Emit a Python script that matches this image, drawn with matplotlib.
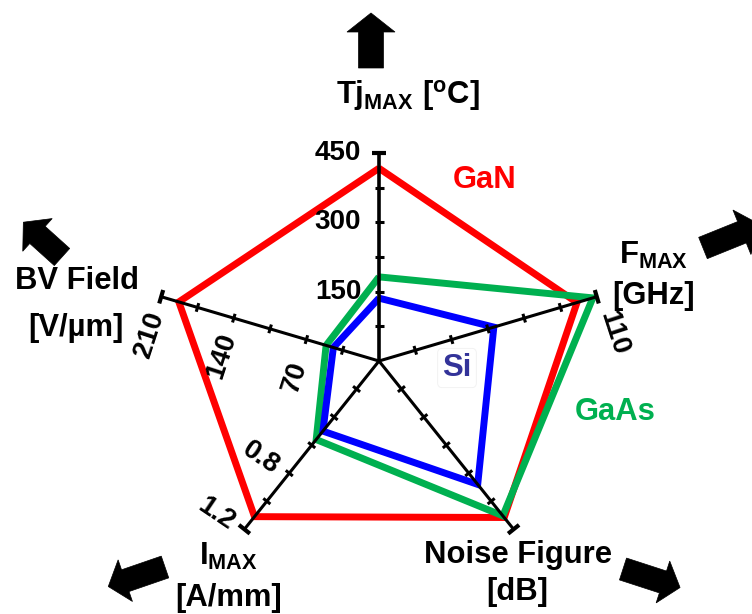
import numpy as np
import matplotlib
matplotlib.use("Agg")
import matplotlib.pyplot as plt
from matplotlib.patches import Polygon

plt.rcParams['font.family'] = ['Liberation Sans', 'DejaVu Sans']
plt.rcParams['font.weight'] = 'bold'
plt.rcParams['mathtext.fontset'] = 'custom'
plt.rcParams['mathtext.rm'] = 'Liberation Sans:bold'
plt.rcParams['mathtext.bf'] = 'Liberation Sans:bold'
plt.rcParams['mathtext.it'] = 'Liberation Sans:bold'
plt.rcParams['mathtext.sf'] = 'Liberation Sans:bold'
plt.rcParams['mathtext.default'] = 'rm'

# ---------------- data ----------------
axis_keys = ['Tj', 'Fmax', 'NF', 'Imax', 'BV']
axis_angles = [90, 18, -54, 234, 162]          # degrees
axis_max = [450, 110, 6.0, 1.2, 210]
n_ticks = 6

gan = [417, 100, 5.58, 1.11, 193]
gaas = [182, 108, 5.52, 0.56, 51]
si = [136, 58, 4.4, 0.50, 44]

tick_labels_tj = ['150', '300', '450']
tick_labels_bv = ['70', '140', '210']
tick_labels_fmax = ['110']
tick_labels_imax = ['0.8', '1.2']

# ---------------- layout ----------------
W, H = 752, 614
CX, CY = 379, 361          # centre in image pixels (y down)
SX, SY = 229.0, 208.0      # pixels per radius unit

fig = plt.figure(figsize=(W / 100, H / 100), dpi=100)
ax = fig.add_axes([0, 0, 1, 1])
ax.set_xlim(-CX / SX, (W - CX) / SX)
ax.set_ylim(-(H - CY) / SY, CY / SY)
ax.axis('off')


def img2data(px, py):
    return (px - CX) / SX, (CY - py) / SY


def point(i, v):
    r = v / axis_max[i]
    a = np.deg2rad(axis_angles[i])
    return r * np.cos(a), r * np.sin(a)


def perp(i, length_px):
    a = np.deg2rad(axis_angles[i])
    dx, dy = np.cos(a) * SX, np.sin(a) * SY
    n = np.hypot(dx, dy)
    px, py = -dy / n * length_px, dx / n * length_px
    return px / SX, py / SY


# ---------------- series polygons ----------------
series = [(gan, '#FF0000', 3), (gaas, '#00B050', 4), (si, '#0000FF', 5)]
for vals, col, z in series:
    pts = [point(i, v) for i, v in enumerate(vals)]
    pts.append(pts[0])
    xs, ys = zip(*pts)
    ax.plot(xs, ys, color=col, lw=5.0, zorder=z, solid_joinstyle='miter',
            solid_capstyle='butt')

# ---------------- axes ----------------
for i in range(5):
    x1, y1 = point(i, axis_max[i])
    ax.plot([0, x1], [0, y1], color='black', lw=2.2 if i else 2.6, zorder=10,
            solid_capstyle='butt')
    for k in range(1, n_ticks + 1):
        v = axis_max[i] * k / n_ticks
        tx, ty = point(i, v)
        hl = 4.5 if k < n_ticks else 7.0
        ox, oy = perp(i, hl)
        ax.plot([tx - ox, tx + ox], [ty - oy, ty + oy], color='black',
                lw=2.2 if k < n_ticks else 3.0, zorder=10, solid_capstyle='butt')

# ---------------- tick labels ----------------
tfs = 20


def tick_label(i, k, txt, off_img, rot):
    v = axis_max[i] * k / n_ticks
    tx, ty = point(i, v)
    ax.text(tx + off_img[0] / SX, ty - off_img[1] / SY, txt, fontsize=tfs,
            fontweight='bold', rotation=rot, ha='center', va='center',
            rotation_mode='anchor', zorder=12)


for lab, k in zip(tick_labels_tj, [2, 4, 6]):
    tick_label(0, k, lab, (-41, 0), 0)
for lab, k in zip(tick_labels_bv, [2, 4, 6]):
    tick_label(4, k, lab, (-12, 38), 72)
for lab, k in zip(tick_labels_fmax, [6]):
    tick_label(1, k, lab, (17, 36), -72)
for lab, k in zip(tick_labels_imax, [4, 6]):
    tick_label(3, k, lab, (-28, -15), -34)

# ---------------- axis titles ----------------
lfs = 22.3


def label(px, py, txt, **kw):
    x, y = img2data(px, py)
    ax.text(x, y, txt, fontsize=kw.pop('fontsize', lfs), fontweight='bold',
            ha='center', va='center', zorder=12, **kw)


label(408, 96, r'$\mathrm{Tj_{MAX}\ [^{o}C]}$')
label(654, 255, r'$\mathrm{F_{MAX}}$')
label(654, 296, '[GHz]')
label(77, 281, 'BV Field')
label(76, 328, '[V/\u00b5m]')
label(228, 556, r'$\mathrm{I_{MAX}}$')
label(229, 598, '[A/mm]')
label(518, 555, 'Noise Figure')
label(517, 592, '[dB]')

label(485, 180, 'GaN', color='#FF0000')
label(615, 412, 'GaAs', color='#00B050')
label(457, 368, 'Si', color='#333399',
      bbox=dict(boxstyle='round,pad=0.15', fc='white', ec='#F0F0F0', lw=0.6))

# ---------------- block arrows ----------------


def block_arrow(tx, ty, ang, length, shaft_w, head_w, head_len):
    a = np.deg2rad(ang)
    d = np.array([np.cos(a), -np.sin(a)])    # image coords (y down)
    n = np.array([np.sin(a), np.cos(a)])
    t = np.array([tx, ty], dtype=float)
    neck = t + d * (length - head_len)
    tip = t + d * length
    pts = [t + n * shaft_w / 2, neck + n * shaft_w / 2, neck + n * head_w / 2,
           tip, neck - n * head_w / 2, neck - n * shaft_w / 2, t - n * shaft_w / 2]
    data = [img2data(p[0], p[1]) for p in pts]
    ax.add_patch(Polygon(data, closed=True, fc='black', ec='black', lw=0.5,
                         zorder=12))


block_arrow(371, 68, 90, 55, 25, 48, 19)
block_arrow(62, 257, 138, 52, 23, 44, 19)
block_arrow(703, 248, 22, 62, 23, 48, 20)
block_arrow(165, 567, 199, 60, 23, 44, 18)
block_arrow(623, 569, -18, 60, 23, 44, 18)

fig.savefig('out.png', dpi=100)
